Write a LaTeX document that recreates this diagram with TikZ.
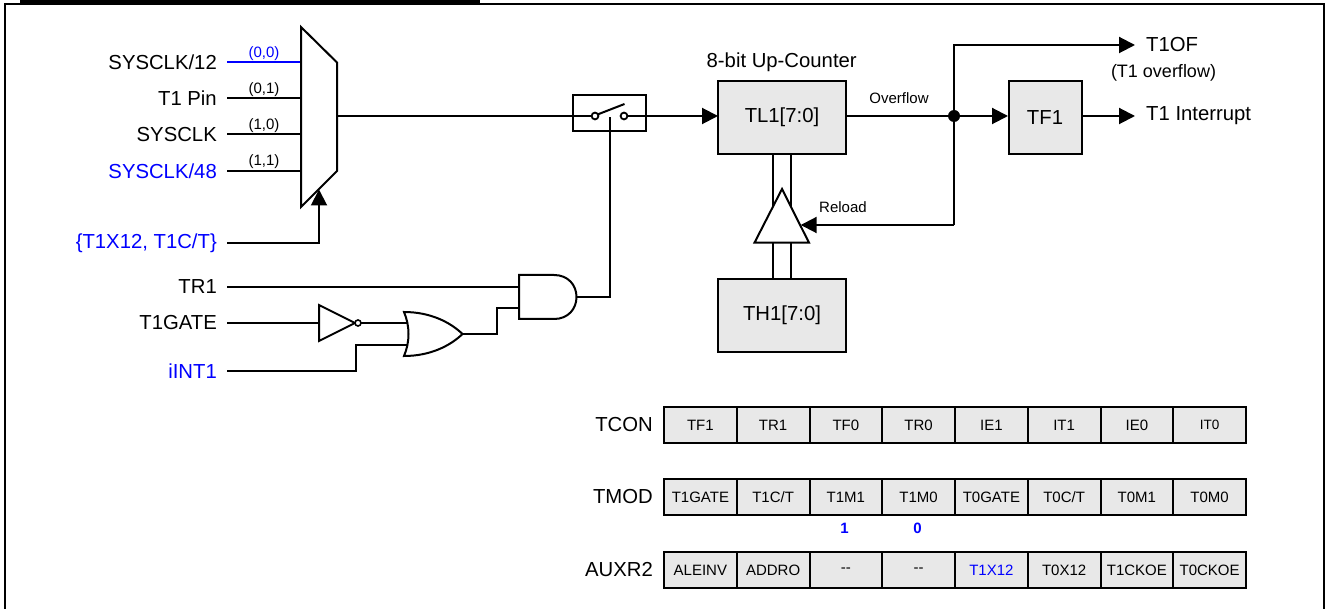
\documentclass[tikz,border=0pt]{standalone}
\usepackage{fontspec}
\setmainfont{Liberation Sans}
\usetikzlibrary{arrows.meta}
\definecolor{blu}{RGB}{0,0,255}
\definecolor{cellgray}{RGB}{232,232,232}
\newcommand{\fl}{\fontsize{20.3}{22}\selectfont}
\newcommand{\fm}{\fontsize{18}{20}\selectfont}
\newcommand{\fs}{\fontsize{15}{17}\selectfont}
\tikzset{
  x=1pt,y=-1pt,
  wire/.style={line width=2pt,line join=miter},
  tipped/.style={wire,-{Triangle[length=16pt,width=16pt,sep=0pt]}},
  gate/.style={line width=2pt,draw=black,fill=white,line join=miter},
  regbox/.style={draw=black,line width=2pt,fill=cellgray,inner sep=0pt,text=black},
  cell/.style={regbox,minimum width=72.75pt,minimum height=36pt,font=\fs,anchor=west},
  biglab/.style={font=\fl,inner sep=0pt,anchor=east},
  lefttxt/.style={font=\fl,inner sep=0pt,anchor=west},
  small/.style={font=\fs,inner sep=0pt},
}
\begin{document}
\begin{tikzpicture}
\useasboundingbox (0,0) rectangle (1325,609);
% frame
\draw[line width=2pt] (5,609) -- (5,4.3) -- (1324,4.3) -- (1324,609);
\fill (20,0) rectangle (480,4.3);
% mux inputs
\coordinate (i1l) at (227,62);\coordinate (i1r) at (301,62);
\coordinate (i2l) at (227,98);\coordinate (i2r) at (301,98);
\coordinate (i3l) at (227,134.5);\coordinate (i3r) at (301,134.5);
\coordinate (i4l) at (227,171);\coordinate (i4r) at (301,171);
\draw[wire,blu] (i1l) -- (i1r);
\draw[wire] (i2l) -- (i2r);
\draw[wire] (i3l) -- (i3r);
\draw[wire] (i4l) -- (i4r);
\node[biglab] (lclk12) at (217,62) {SYSCLK/12};
\node[biglab] (lpin) at (217,98) {T1 Pin};
\node[biglab] (lclk) at (217,134.5) {SYSCLK};
\node[biglab,text=blu] (lclk48) at (217,171) {SYSCLK/48};
\node[small,text=blu] (s00) at (264,54) {(0,0)};
\node[small] (s01) at (264,89.5) {(0,1)};
\node[small] (s10) at (264,126) {(1,0)};
\node[small] (s11) at (264,162) {(1,1)};
\draw[gate] (301,27) -- (337,62.5) -- (337,171) -- (301,207) -- cycle;
% select
\node[biglab,text=blu] (lsel) at (217,243) {\{T1X12, T1C/T\}};
\coordinate (selA) at (227,243);\coordinate (selB) at (319,243);\coordinate (selT) at (319,189.5);
\draw[tipped] (selA) -- (selB) -- (selT);
% switch
\draw[line width=2pt] (573,95) rectangle (646,131);
\coordinate (mo) at (337,116);
\coordinate (swa) at (595,116);
\coordinate (swb) at (624,116);
\coordinate (tlin) at (718,116);
\draw[wire] (mo) -- (swa);
\draw[tipped] (swb) -- (tlin);
\draw[wire] (597.5,114.5) -- (624.5,104);
\filldraw[line width=1.8pt,fill=white] (swa) circle (3.4);
\filldraw[line width=1.8pt,fill=white] (swb) circle (3.4);
% gates left labels
\node[biglab] (ltr) at (217,286.5) {TR1};
\node[biglab] (lgate) at (217,323) {T1GATE};
\node[biglab,text=blu] (lint) at (217,371.5) {iINT1};
\coordinate (trA) at (227,287);\coordinate (trB) at (519,287);
\draw[wire] (trA) -- (trB);
\coordinate (gA) at (227,323);\coordinate (gB) at (319,323);
\draw[wire] (gA) -- (gB);
\draw[wire] (361,323) -- (408,323);
\draw[wire] (227,371.5) -- (355.5,371.5) -- (355.5,345) -- (408,345);
% inverter
\draw[gate] (319,305) -- (355,323) -- (319,341) -- cycle;
\filldraw[line width=1.6pt,fill=white] (358,323) circle (3);
% OR
\draw[gate] (404,312) .. controls (430,312) and (450,322) .. (462.5,334)
  .. controls (450,346) and (430,356) .. (404,356)
  .. controls (410,342) and (410,326) .. (404,312) -- cycle;
\draw[wire] (462,334) -- (496.5,334) -- (496.5,308) -- (519,308);
% AND
\draw[gate] (519,275) -- (554,275) .. controls (568,275) and (576.5,285) .. (576.5,297)
  .. controls (576.5,309) and (568,319) .. (554,319) -- (519,319) -- cycle;
\draw[wire] (576.5,297) -- (609.5,297) -- (609.5,117);
% registers
\node[regbox,minimum width=127.5pt,minimum height=72.5pt,font=\fl] (tl) at (782,117.3) {TL1[7:0]};
\node[regbox,minimum width=127.5pt,minimum height=72.5pt,font=\fl] (th) at (782,315.3) {TH1[7:0]};
\node[regbox,minimum width=73pt,minimum height=72.5pt,font=\fl] (tf) at (1045,117.3) {TF1};
\node[font=\fl,inner sep=0pt] (cnt) at (781.7,62) {8-bit Up-Counter};
% bus
\draw[wire] (772.7,153.7) -- (772.7,279);
\draw[wire] (790.7,153.7) -- (790.7,279);
\draw[gate] (782,189) -- (809,242.7) -- (754.5,242.7) -- cycle;
% overflow
\coordinate (dot) at (954,116);
\coordinate (topc) at (954,45);
\coordinate (t1of) at (1135,45);
\coordinate (t1int) at (1135,116);
\coordinate (relc) at (954,225);
\coordinate (reld) at (800.7,225);
\draw[wire] (845.7,116) -- (dot);
\draw[tipped] (relc) -- (topc) -- (t1of);
\draw[tipped] (relc) -- (reld);
\draw[tipped] (dot) -- (1008,116);
\draw[tipped] (1081.7,116) -- (t1int);
\fill (dot) circle (6);
\node[small] (ovf) at (899,97.7) {Overflow};
\node[small] (rel) at (843,206.7) {Reload};
\node[lefttxt] (lof) at (1146,45) {T1OF};
\node[font=\fm,inner sep=0pt] (lovf) at (1163.5,73) {(T1 overflow)};
\node[lefttxt] (lti) at (1146,116) {T1 Interrupt};
% register tables
\node[biglab] (rt) at (653,424.5) {TCON};
\node[biglab] (rm) at (653,497) {TMOD};
\node[biglab] (ra) at (653,570) {AUXR2};
\foreach \txt [count=\i from 0] in {TF1,TR1,TF0,TR0,IE1,IT1,IE0,{\fontsize{13.5}{15}\selectfont\raisebox{1pt}{IT0}}}
  \node[cell] (tc\i) at ({663+72.75*\i},425) {\txt};
\foreach \txt [count=\i from 0] in {T1GATE,T1C/T,T1M1,T1M0,T0GATE,T0C/T,T0M1,T0M0}
  \node[cell] (tm\i) at ({663+72.75*\i},497) {\txt};
\foreach \txt [count=\i from 0] in {ALEINV,ADDRO,-{}-,-{}-,{\textcolor{blu}{T1X12}},T0X12,T1CKOE,T0CKOE}
  \node[cell] (ax\i) at ({663+72.75*\i},570) {\txt};
\node[font=\fontsize{15}{17}\selectfont\bfseries,text=blu,inner sep=0pt] (b1) at (844.5,528) {1};
\node[font=\fontsize{15}{17}\selectfont\bfseries,text=blu,inner sep=0pt] (b0) at (917.5,528) {0};
\end{tikzpicture}
\end{document}
